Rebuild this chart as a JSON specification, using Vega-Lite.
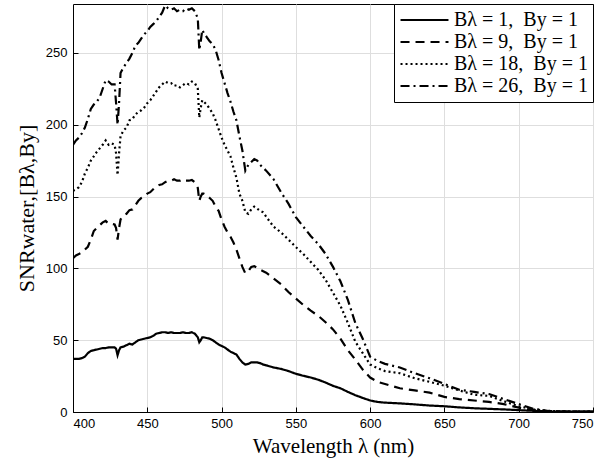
{
  "$schema": "https://vega.github.io/schema/vega-lite/v6.json",
  "width": 520,
  "height": 408,
  "autosize": {"type": "none"},
  "padding": {"left": 73, "top": 4, "right": 12, "bottom": 58},
  "background": "white",
  "config": {
    "view": {"stroke": "black", "strokeWidth": 1},
    "axis": {
      "labelFont": "Liberation Sans",
      "labelFontSize": 13,
      "labelColor": "black",
      "titleFont": "Liberation Serif",
      "titleFontSize": 21,
      "titleFontWeight": "normal",
      "titleColor": "black",
      "gridColor": "#dedede",
      "gridWidth": 1,
      "domainColor": "black",
      "tickColor": "black",
      "tickSize": -5
    }
  },
  "data": {
    "values": [
      {"w": 400, "b1": 37, "b9": 107, "b18": 154, "b26": 186},
      {"w": 402, "b1": 37, "b9": 109, "b18": 155, "b26": 189},
      {"w": 404, "b1": 37, "b9": 110, "b18": 156.5, "b26": 191},
      {"w": 406, "b1": 37.5, "b9": 111, "b18": 160, "b26": 194},
      {"w": 408, "b1": 38.5, "b9": 113, "b18": 166, "b26": 198},
      {"w": 410, "b1": 41, "b9": 115, "b18": 170, "b26": 204},
      {"w": 412, "b1": 42.5, "b9": 120, "b18": 175, "b26": 211},
      {"w": 414, "b1": 43, "b9": 126, "b18": 178, "b26": 214},
      {"w": 416, "b1": 43.5, "b9": 128, "b18": 181, "b26": 216},
      {"w": 418, "b1": 44, "b9": 130, "b18": 183.5, "b26": 219},
      {"w": 420, "b1": 44.5, "b9": 132, "b18": 186, "b26": 225},
      {"w": 422, "b1": 44.5, "b9": 133, "b18": 189, "b26": 231},
      {"w": 424, "b1": 45, "b9": 131, "b18": 186, "b26": 230},
      {"w": 426, "b1": 45, "b9": 131, "b18": 187, "b26": 228},
      {"w": 428, "b1": 45, "b9": 130.5, "b18": 186, "b26": 228},
      {"w": 429, "b1": 44, "b9": 128, "b18": 180, "b26": 215},
      {"w": 430, "b1": 39.5, "b9": 120, "b18": 165, "b26": 200},
      {"w": 431, "b1": 43, "b9": 128, "b18": 180, "b26": 215},
      {"w": 432, "b1": 45, "b9": 134, "b18": 192, "b26": 236},
      {"w": 434, "b1": 45.5, "b9": 137, "b18": 196, "b26": 240},
      {"w": 436, "b1": 46.5, "b9": 138, "b18": 198, "b26": 243},
      {"w": 438, "b1": 47.5, "b9": 140.5, "b18": 203, "b26": 246},
      {"w": 440, "b1": 47, "b9": 141, "b18": 204, "b26": 250},
      {"w": 442, "b1": 48.5, "b9": 144, "b18": 207, "b26": 255},
      {"w": 444, "b1": 50, "b9": 147, "b18": 209, "b26": 257},
      {"w": 446, "b1": 50.5, "b9": 149, "b18": 210, "b26": 260},
      {"w": 448, "b1": 51, "b9": 150, "b18": 212, "b26": 263},
      {"w": 450, "b1": 51.5, "b9": 152, "b18": 215, "b26": 265},
      {"w": 452, "b1": 52, "b9": 153, "b18": 217, "b26": 268},
      {"w": 454, "b1": 53, "b9": 155, "b18": 220, "b26": 270},
      {"w": 456, "b1": 54.5, "b9": 157, "b18": 223, "b26": 272},
      {"w": 458, "b1": 55, "b9": 158, "b18": 226, "b26": 275},
      {"w": 460, "b1": 55.5, "b9": 158.5, "b18": 228, "b26": 278},
      {"w": 462, "b1": 55.5, "b9": 160, "b18": 230, "b26": 283},
      {"w": 464, "b1": 55, "b9": 161, "b18": 229, "b26": 281},
      {"w": 466, "b1": 55.5, "b9": 161, "b18": 229, "b26": 280},
      {"w": 468, "b1": 55, "b9": 162, "b18": 227, "b26": 281},
      {"w": 470, "b1": 55, "b9": 161, "b18": 227.5, "b26": 279},
      {"w": 472, "b1": 55, "b9": 161, "b18": 226, "b26": 280},
      {"w": 474, "b1": 55.5, "b9": 162, "b18": 227.5, "b26": 279},
      {"w": 476, "b1": 55, "b9": 161, "b18": 229, "b26": 281},
      {"w": 478, "b1": 55, "b9": 161, "b18": 228, "b26": 280},
      {"w": 480, "b1": 55.5, "b9": 161.5, "b18": 230, "b26": 281},
      {"w": 482, "b1": 54.5, "b9": 160, "b18": 229, "b26": 279},
      {"w": 484, "b1": 52, "b9": 156, "b18": 225, "b26": 274},
      {"w": 485, "b1": 48.5, "b9": 147, "b18": 205, "b26": 252},
      {"w": 486, "b1": 50, "b9": 150, "b18": 212, "b26": 258},
      {"w": 487, "b1": 52, "b9": 152, "b18": 217, "b26": 266},
      {"w": 488, "b1": 52, "b9": 152, "b18": 216, "b26": 264},
      {"w": 490, "b1": 51.5, "b9": 151, "b18": 214, "b26": 261},
      {"w": 492, "b1": 51, "b9": 149, "b18": 211, "b26": 258},
      {"w": 494, "b1": 50, "b9": 147, "b18": 208, "b26": 256},
      {"w": 496, "b1": 48.5, "b9": 143, "b18": 203, "b26": 252},
      {"w": 498, "b1": 47, "b9": 140, "b18": 197, "b26": 245},
      {"w": 500, "b1": 46, "b9": 134, "b18": 191, "b26": 236},
      {"w": 502, "b1": 45, "b9": 129, "b18": 186, "b26": 229},
      {"w": 504, "b1": 43.5, "b9": 125, "b18": 182, "b26": 222},
      {"w": 506, "b1": 42, "b9": 122, "b18": 178, "b26": 216},
      {"w": 508, "b1": 41, "b9": 118, "b18": 170, "b26": 209},
      {"w": 510, "b1": 40, "b9": 113, "b18": 163, "b26": 203},
      {"w": 512, "b1": 37, "b9": 107, "b18": 152, "b26": 192},
      {"w": 514, "b1": 34.5, "b9": 101, "b18": 147, "b26": 182},
      {"w": 516, "b1": 33, "b9": 96.5, "b18": 139, "b26": 168},
      {"w": 518, "b1": 33.5, "b9": 98, "b18": 138, "b26": 172},
      {"w": 520, "b1": 34.5, "b9": 101, "b18": 141, "b26": 174},
      {"w": 522, "b1": 34.5, "b9": 101.5, "b18": 143, "b26": 176},
      {"w": 524, "b1": 34.5, "b9": 100.5, "b18": 141.5, "b26": 175},
      {"w": 526, "b1": 34, "b9": 99, "b18": 140, "b26": 172},
      {"w": 528, "b1": 33, "b9": 98, "b18": 139, "b26": 170},
      {"w": 530, "b1": 32.5, "b9": 97, "b18": 136, "b26": 168},
      {"w": 535, "b1": 31, "b9": 93, "b18": 129, "b26": 162},
      {"w": 540, "b1": 30, "b9": 89, "b18": 125, "b26": 153},
      {"w": 545, "b1": 28.5, "b9": 83.5, "b18": 120, "b26": 145},
      {"w": 550, "b1": 26.6, "b9": 79, "b18": 114.8, "b26": 135.7},
      {"w": 555, "b1": 25.2, "b9": 74.5, "b18": 110, "b26": 129},
      {"w": 560, "b1": 24, "b9": 70.5, "b18": 104.5, "b26": 122.5},
      {"w": 565, "b1": 22.5, "b9": 67, "b18": 99, "b26": 117},
      {"w": 570, "b1": 20.5, "b9": 62.5, "b18": 92, "b26": 110},
      {"w": 575, "b1": 18.2, "b9": 57.5, "b18": 83, "b26": 101},
      {"w": 580, "b1": 16.5, "b9": 51, "b18": 74, "b26": 91},
      {"w": 585, "b1": 14, "b9": 43, "b18": 62, "b26": 78},
      {"w": 590, "b1": 11.7, "b9": 36.5, "b18": 49, "b26": 62},
      {"w": 595, "b1": 9.8, "b9": 29.5, "b18": 41, "b26": 51},
      {"w": 600, "b1": 8, "b9": 24, "b18": 33, "b26": 38.5},
      {"w": 605, "b1": 7, "b9": 21, "b18": 30.5, "b26": 35.5},
      {"w": 610, "b1": 6.5, "b9": 19.5, "b18": 28.5, "b26": 33.5},
      {"w": 620, "b1": 6, "b9": 16.5, "b18": 27, "b26": 31},
      {"w": 630, "b1": 5.3, "b9": 15, "b18": 23.5, "b26": 27},
      {"w": 640, "b1": 4.5, "b9": 13.5, "b18": 21, "b26": 23.5},
      {"w": 650, "b1": 4, "b9": 10.5, "b18": 18.3, "b26": 19.5},
      {"w": 660, "b1": 3.2, "b9": 9, "b18": 15, "b26": 15.5},
      {"w": 670, "b1": 2.6, "b9": 8, "b18": 12, "b26": 14},
      {"w": 680, "b1": 2.2, "b9": 7, "b18": 11.2, "b26": 12.5},
      {"w": 690, "b1": 1.8, "b9": 5.5, "b18": 7.5, "b26": 9},
      {"w": 700, "b1": 1.3, "b9": 3, "b18": 4, "b26": 5.5},
      {"w": 710, "b1": 0.8, "b9": 1.3, "b18": 1.8, "b26": 2.2},
      {"w": 720, "b1": 0.4, "b9": 0.6, "b18": 0.8, "b26": 0.7},
      {"w": 730, "b1": 0.2, "b9": 0.3, "b18": 0.4, "b26": 0.4},
      {"w": 740, "b1": 0.2, "b9": 0.3, "b18": 0.3, "b26": 0.3},
      {"w": 750, "b1": 0.2, "b9": 0.3, "b18": 0.3, "b26": 0.3}
    ]
  },
  "transform": [{"fold": ["b1", "b9", "b18", "b26"], "as": ["series", "snr"]}],
  "mark": {"type": "line", "clip": true, "strokeWidth": 2.2, "color": "black"},
  "encoding": {
    "x": {
      "field": "w",
      "type": "quantitative",
      "scale": {"domain": [400, 750], "nice": false, "zero": false},
      "axis": {"values": [400, 450, 500, 550, 600, 650, 700, 750], "title": "Wavelength λ (nm)", "titlePadding": 5, "labelPadding": 10}
    },
    "y": {
      "field": "snr",
      "type": "quantitative",
      "scale": {"domain": [0, 284], "nice": false},
      "axis": {"values": [0, 50, 100, 150, 200, 250], "title": "SNRwater,[Bλ,By]", "titlePadding": 7, "labelPadding": 11, "titleFontSize": 22}
    },
    "strokeDash": {
      "field": "series",
      "type": "nominal",
      "scale": {"domain": ["b1", "b9", "b18", "b26"], "range": [[1, 0], [9, 6], [2, 3], [9, 4, 2, 4]]},
      "legend": {
        "title": null,
        "orient": "top-right",
        "offset": 0,
        "fillColor": "white",
        "strokeColor": "black",
        "padding": 5,
        "symbolType": "stroke",
        "symbolSize": 2300,
        "symbolStrokeWidth": 2.2,
        "symbolStrokeColor": "black",
        "clipHeight": 22,
        "labelFont": "Liberation Serif",
        "labelFontSize": 20,
        "labelColor": "black",
        "labelOffset": 4,
        "rowPadding": 0,
        "labelExpr": "{'b1': 'Bλ = 1,\u2002By = 1', 'b9': 'Bλ = 9,\u2002By = 1', 'b18': 'Bλ = 18,\u2002By = 1', 'b26': 'Bλ = 26,\u2002By = 1'}[datum.label]"
      }
    }
  }
}
